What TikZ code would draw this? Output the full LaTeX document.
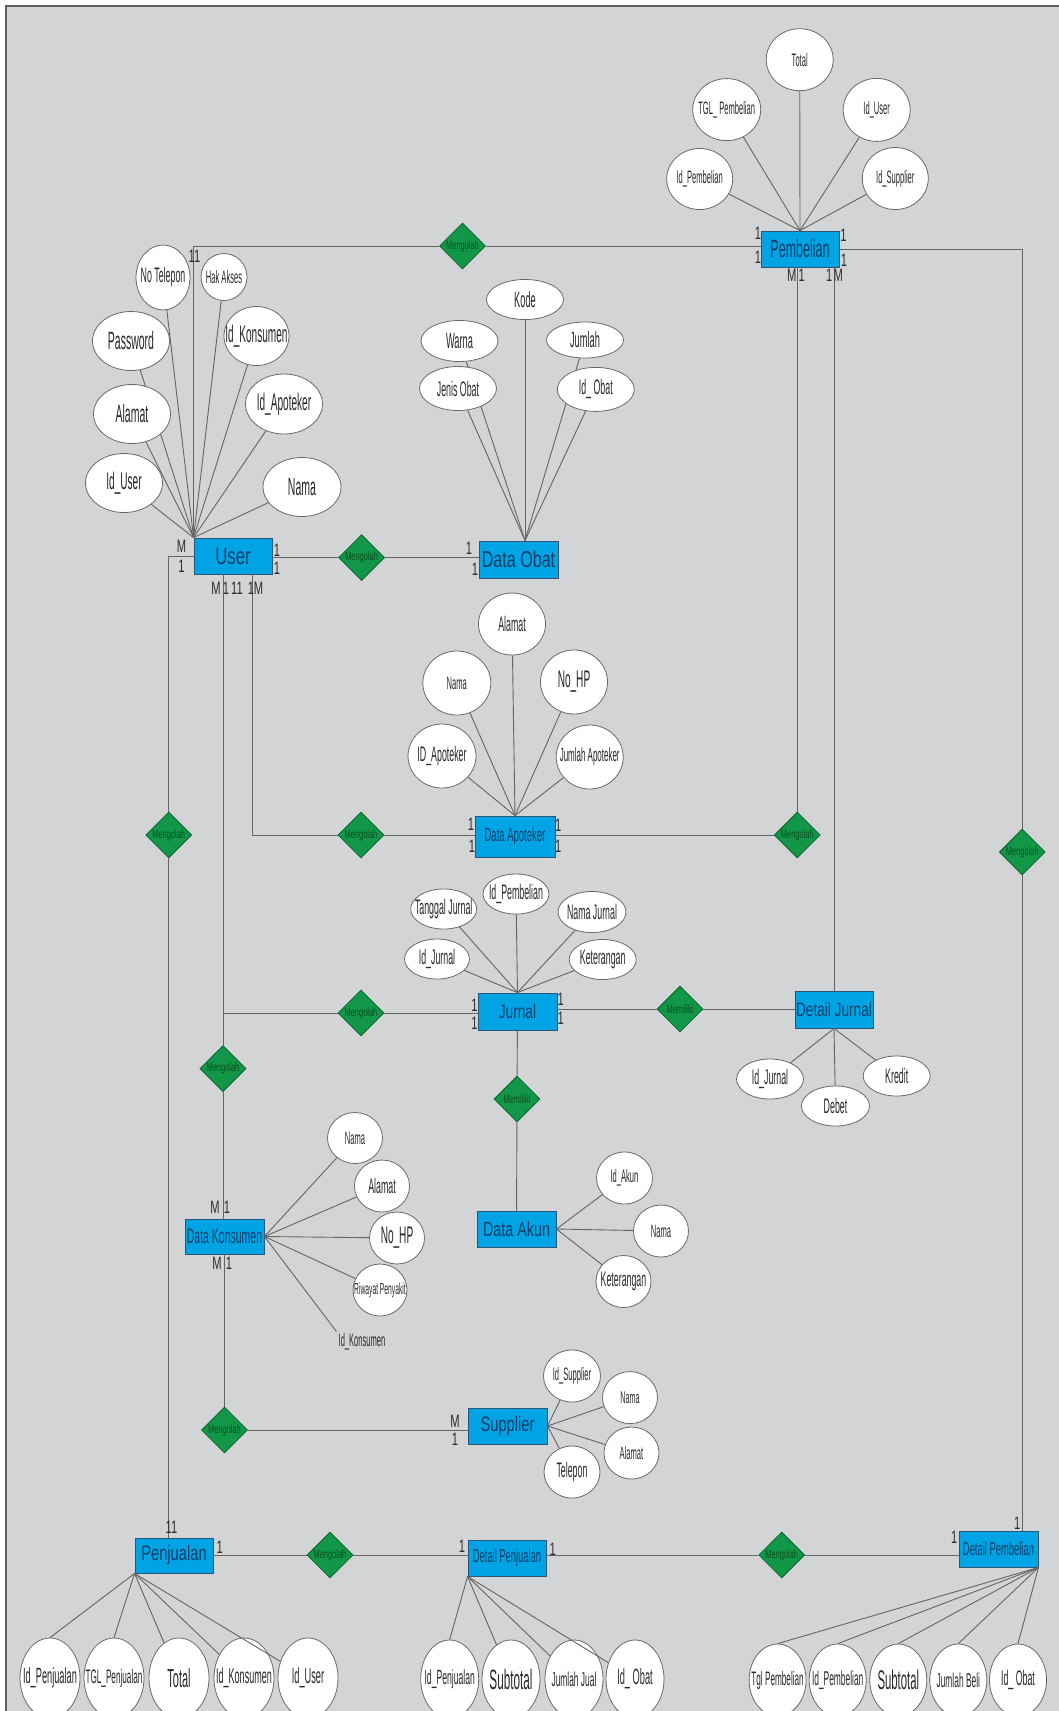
\documentclass[tikz,border=0pt]{standalone}
\usepackage{fontspec}
\setmainfont{Liberation Sans}
\newfontfamily\entfont[FakeStretch=0.7]{Liberation Sans}
\newfontfamily\entnarrow[FakeStretch=0.5]{Liberation Sans}
\newfontfamily\attfont[FakeStretch=0.42]{Liberation Sans}
\newfontfamily\relfont[FakeStretch=0.62]{Liberation Sans}
\newfontfamily\cardfont[FakeStretch=0.62]{Liberation Sans}
\usetikzlibrary{shapes.geometric}
\newcommand{\fs}[1]{\fontsize{#1}{#1}\selectfont}
\newcommand{\tx}[1]{\makebox[0pt]{#1}}
\definecolor{bgpage}{RGB}{211,212,214}
\definecolor{framec}{RGB}{95,95,95}
\definecolor{entfill}{RGB}{0,163,228}
\definecolor{entline}{RGB}{45,85,120}
\definecolor{enttext}{RGB}{12,62,105}
\definecolor{relfill}{RGB}{18,150,72}
\definecolor{relline}{RGB}{10,100,45}
\definecolor{reltext}{RGB}{8,80,32}
\definecolor{attline}{RGB}{105,105,105}
\definecolor{atttext}{RGB}{40,40,40}
\definecolor{linkc}{RGB}{100,100,100}
\definecolor{cardtext}{RGB}{45,45,45}
\tikzset{
  ent/.style={rectangle, draw=entline, fill=entfill, text=enttext, line width=0.9pt, inner sep=0pt},
  rel/.style={diamond, draw=relline, fill=relfill, text=reltext, line width=0.8pt, inner sep=0pt, minimum width=46, minimum height=46, font=\relfont\fs{12}},
  attr/.style={ellipse, draw=attline, fill=white, text=atttext, line width=0.8pt, inner sep=0pt, font=\attfont\fs{#1}},
  attr/.default=21,
  card/.style={inner sep=0pt, text=cardtext, font=\cardfont\fs{18}},
  link/.style={draw=linkc, line width=0.9pt},
}
\begin{document}
\begin{tikzpicture}[x=1pt, y=-1pt]
\useasboundingbox (0,0) rectangle (1059,1711);
\fill[bgpage] (6,6) rectangle (1059,1711);
\draw[framec, line width=1.4pt] (1059,6) -- (6,6) -- (6,1711);

% entitas
\node[ent, minimum width=78, minimum height=36, font=\entfont\fs{24}] (user) at (233,556) {User};
\node[ent, minimum width=79, minimum height=37, font=\entfont\fs{23}] (obat) at (518.5,559.5) {Data Obat};
\node[ent, minimum width=78, minimum height=36, font=\entnarrow\fs{25}] (pemb) at (800,249) {Pembelian};
\node[ent, minimum width=80, minimum height=41, font=\entnarrow\fs{19}] (apot) at (515,836.5) {Data Apoteker};
\node[ent, minimum width=79, minimum height=37, font=\entfont\fs{19.5}] (jurnal) at (517.5,1011.5) {Jurnal};
\node[ent, minimum width=78, minimum height=37, font=\entfont\fs{19.5}] (djur) at (834,1009.5) {Detail Jurnal};
\node[ent, minimum width=79, minimum height=36, font=\entfont\fs{20.5}] (akun) at (516.5,1229) {Data Akun};
\node[ent, minimum width=79, minimum height=35, font=\entnarrow\fs{21}] (kons) at (224.5,1236.5) {Data Konsumen};
\node[ent, minimum width=79, minimum height=36, font=\entfont\fs{21}] (supp) at (507.5,1426) {Supplier};
\node[ent, minimum width=78, minimum height=35, font=\entfont\fs{21}] (penj) at (174,1555.5) {Penjualan};
\node[ent, minimum width=78, minimum height=36, font=\entnarrow\fs{18.7}] (dpenj) at (507,1558) {Detail Penjualan};
\node[ent, minimum width=79, minimum height=36, font=\entnarrow\fs{18.8}] (dpemb) at (998.5,1549) {Detail Pembelian};

% relasi
\node[rel] (olah1) at (462.5,246) {\tx{Mengolah}};
\node[rel] (olah2) at (361.6,557.6) {\tx{Mengolah}};
\node[rel] (olah3) at (168.7,835) {\tx{Mengolah}};
\node[rel] (olah4) at (361,835) {\tx{Mengolah}};
\node[rel] (olah5) at (797.3,835) {\tx{Mengolah}};
\node[rel] (olah6) at (1022.3,852) {\tx{Mengolah}};
\node[rel] (olah7) at (361,1013) {\tx{Mengolah}};
\node[rel] (olah8) at (223,1068.6) {\tx{Mengolah}};
\node[rel] (milik1) at (517,1099) {\tx{Memiliki}};
\node[rel] (milik2) at (680,1009) {\tx{Memiliki}};
\node[rel] (olah9) at (224.5,1430) {\tx{Mengolah}};
\node[rel] (olah10) at (330,1555) {\tx{Mengolah}};
\node[rel] (olah11) at (781.7,1555) {\tx{Mengolah}};

% garis relasi
\draw[link] (user.north west) |- (olah1);
\draw[link] (olah1) -- (olah1 -| pemb.west);
\draw[link] (pemb.east) -| (olah6);
\draw[link] (olah6) -- (olah6 |- dpemb.north);
\draw[link] (olah5 |- pemb.south) -- (olah5);
\draw[link] (djur |- pemb.south) -- (djur);
\draw[link] (olah2 -| user.east) -- (olah2);
\draw[link] (olah2) -- (olah2 -| obat.west);
\draw[link] (user.west) -| (olah3);
\draw[link] (olah3) -- (olah3 |- penj.north);
\draw[link] (olah8 |- user.south) -- (olah8);
\draw[link] (olah8) -- (olah8 |- kons.north);
\draw[link] (olah8 |- olah7) -- (olah7);
\draw[link] (olah7) -- (olah7 -| jurnal.west);
\draw[link] ([xshift=19.3pt]user.south) |- (olah4);
\draw[link] (olah4) -- (olah4 -| apot.west);
\draw[link] (olah5 -| apot.east) -- (olah5);
\draw[link] (milik2 -| jurnal.east) -- (milik2);
\draw[link] (milik2) -- (milik2 -| djur.west);
\draw[link] (jurnal) -- (milik1);
\draw[link] (milik1) -- (akun);
\draw[link] (kons) -- (olah9);
\draw[link] (olah9) -- (olah9 -| supp.west);
\draw[link] (olah10 -| penj.east) -- (olah10);
\draw[link] (olah10) -- (olah10 -| dpenj.west);
\draw[link] (olah11 -| dpenj.east) -- (olah11);
\draw[link] (olah11) -- (olah11 -| dpemb.west);

% atribut
\foreach \n/\x/\y/\rw/\rh/\fsz/\lbl in {
  uTelp/163/277.5/54/65/21/No Telepon,
  uHak/224/277/46/47/18/Hak Akses,
  uPass/131/341/77/59/25/Password,
  uKons/256.5/336/65/59/24/Id\_Konsumen,
  uAlm/132/414/77/59/25/Alamat,
  uApt/284/404/77/60/24/Id\_Apoteker,
  uId/124/483/77/59/24/Id\_User,
  uNama/302/487/78/59/25/Nama}
{
  \node[attr=\fsz, minimum width=\rw, minimum height=\rh] (\n) at (\x,\y) {\tx{\lbl}};
  \draw[link] (\n) -- (user.north west);
}
\coordinate (obatTop) at ([xshift=6.5pt]obat.north);
\foreach \n/\x/\y/\rw/\rh/\fsz/\lbl in {
  oKode/525/299.5/77/40/22/Kode,
  oWarna/459.5/341/77/41/22/Warna,
  oJenis/458/388.5/77/44/21/Jenis Obat,
  oJml/585/340/77/36/22/Jumlah,
  oId/595.8/389.4/77/44/21/Id\_ Obat}
{
  \node[attr=\fsz, minimum width=\rw, minimum height=\rh] (\n) at (\x,\y) {\tx{\lbl}};
  \draw[link] (\n) -- (obatTop);
}
\foreach \n/\x/\y/\rw/\rh/\fsz/\lbl in {
  pTotal/799.7/59.7/67/62/18/Total,
  pTgl/726.7/109.6/68/62/18/TGL\_ Pembelian,
  pUser/876.7/109.9/67/63/18/Id\_User,
  pId/699.7/179/66/61/18/Id\_Pembelian,
  pSupp/895.3/178.5/66/62/18/Id\_Supplier}
{
  \node[attr=\fsz, minimum width=\rw, minimum height=\rh] (\n) at (\x,\y) {\tx{\lbl}};
  \draw[link] (\n) -- (pemb.north);
}
\foreach \n/\x/\y/\rw/\rh/\fsz/\lbl in {
  aAlm/512/624/67/62/21/Alamat,
  aNama/456.8/683/68/64/18/Nama,
  aId/442/756/68/64/21/ID\_Apoteker,
  aHp/574/682/67/64/24/No\_HP,
  aJml/589.7/757/67/64/19/Jumlah Apoteker}
{
  \node[attr=\fsz, minimum width=\rw, minimum height=\rh] (\n) at (\x,\y) {\tx{\lbl}};
  \draw[link] (\n) -- (apot.north);
}
\foreach \n/\x/\y/\rw/\rh/\fsz/\lbl in {
  jTgl/443.7/909/66/40/21/Tanggal Jurnal,
  jPemb/516/894/66/40/21/Id\_Pembelian,
  jId/437/959/65/40/21/Id\_Jurnal,
  jNama/592/912/68/41/21/Nama Jurnal,
  jKet/602.7/959.5/67/40/21/Keterangan}
{
  \node[attr=\fsz, minimum width=\rw, minimum height=\rh] (\n) at (\x,\y) {\tx{\lbl}};
  \draw[link] (\n) -- (jurnal.north);
}
\foreach \n/\x/\y/\rw/\rh/\fsz/\lbl in {
  djId/770/1079/67/40/21/Id\_Jurnal,
  djDeb/835.5/1106/68/40/21/Debet,
  djKre/896.7/1076/67/40/21/Kredit}
{
  \node[attr=\fsz, minimum width=\rw, minimum height=\rh] (\n) at (\x,\y) {\tx{\lbl}};
  \draw[link] (\n) -- (djur.south);
}
\foreach \n/\x/\y/\rw/\rh/\fsz/\lbl in {
  kNama/355/1138/55/51/18/Nama,
  kAlm/382/1186/55/52/21/Alamat,
  kHp/397/1238/55/52/24/No\_HP,
  kRiw/380/1290/54/52/16/Riwayat Penyakit}
{
  \node[attr=\fsz, minimum width=\rw, minimum height=\rh] (\n) at (\x,\y) {\tx{\lbl}};
  \draw[link] (\n) -- (kons.east);
}
\node[inner sep=2pt, text=atttext, font=\attfont\fs{18}] (kId) at (362,1342) {Id\_Konsumen};
\draw[link] (kons.east) -- (kId.north west);
\foreach \n/\x/\y/\rw/\rh/\fsz/\lbl in {
  akId/624.5/1178/56/52/18/Id\_Akun,
  akNama/661/1231/55/52/18/Nama,
  akKet/623.5/1281.5/55/52/21/Keterangan}
{
  \node[attr=\fsz, minimum width=\rw, minimum height=\rh] (\n) at (\x,\y) {\tx{\lbl}};
  \draw[link] (\n) -- (akun.east);
}
\foreach \n/\x/\y/\rw/\rh/\fsz/\lbl in {
  sId/572/1376/57/52/18/Id\_Supplier,
  sNama/630/1397.6/55/52/17/Nama,
  sAlm/631.5/1453/55/52/18/Alamat,
  sTelp/572/1472/56/52/21/Telepon}
{
  \node[attr=\fsz, minimum width=\rw, minimum height=\rh] (\n) at (\x,\y) {\tx{\lbl}};
  \draw[link] (\n) -- (supp.east);
}

% atribut bawah
\foreach \n/\x/\fsz/\lbl in {
  pjId/50/22/Id\_Penjualan,
  pjTgl/114/19.5/TGL\_Penjualan,
  pjTot/179/26/Total,
  pjKons/244/21.5/Id\_Konsumen,
  pjUser/308/22/Id\_User}
  \node[attr=\fsz, minimum width=60, minimum height=80] (\n) at (\x,1678) {\tx{\lbl}};
\draw[link] (pjId.north) -- (penj.south west);
\draw[link] (pjTgl.north) -- (penj.south west);
\foreach \n in {pjTot,pjKons,pjUser}
  \draw[link] (\n) -- (penj.south west);

\foreach \n/\x/\fsz/\lbl in {
  dpjId/449.7/20.5/Id\_Penjualan,
  dpjSub/511/28/Subtotal,
  dpjJml/574/20/Jumlah Jual,
  dpjObat/635/22/Id\_ Obat}
  \node[attr=\fsz, minimum width=58, minimum height=78] (\n) at (\x,1679) {\tx{\lbl}};
\draw[link] (dpjId.north) -- (dpenj.south west);
\foreach \n in {dpjSub,dpjJml,dpjObat}
  \draw[link] (\n) -- (dpenj.south west);

\foreach \n/\x/\fsz/\lbl in {
  dpbTgl/777.6/19.5/Tgl Pembelian,
  dpbId/837.7/20/Id\_Pembelian,
  dpbSub/898.3/27/Subtotal,
  dpbJml/958.3/20/Jumlah Beli,
  dpbObat/1018/21/Id\_ Obat}
  \node[attr=\fsz, minimum width=57, minimum height=72] (\n) at (\x,1680) {\tx{\lbl}};
\foreach \n in {dpbTgl,dpbId,dpbSub,dpbJml,dpbObat}
  \draw[link] (\n.north) -- (dpemb.south east);

% kardinalitas
\foreach \n/\x/\y/\lbl in {
  1/194.5/256/11, 2/181.5/546.5/M, 3/181.5/566.4/1, 4/277/550/1, 5/277/568/1,
  6/216/588/M, 7/226/588/1, 8/237/588/11, 9/251/588/1, 10/258.5/588/M,
  11/469/548/1, 12/475/569.5/1,
  13/758/233.5/1, 14/758/257/1, 15/843.5/235/1, 16/844/260/1,
  17/791.7/275/M, 18/801.7/275/1, 19/829.3/275/1, 20/838.3/275/M,
  21/471/824.6/1, 22/472/846/1, 23/558.3/825.7/1, 24/558.3/846/1,
  25/474.5/1005/1, 26/474.5/1023/1, 27/560.7/999.6/1, 28/560.7/1018.6/1,
  29/215/1207.4/M, 30/227/1207.4/1, 31/217/1263/M, 32/229/1263/1,
  33/455/1421.5/M, 34/455/1439.6/1, 35/171.5/1527/11, 36/219.7/1547/1,
  37/462/1546/1, 38/552.7/1549/1, 39/954.3/1537.6/1, 40/1017.3/1523.3/1}
  \node[card] (card\n) at (\x,\y) {\lbl};
\end{tikzpicture}
\end{document}
